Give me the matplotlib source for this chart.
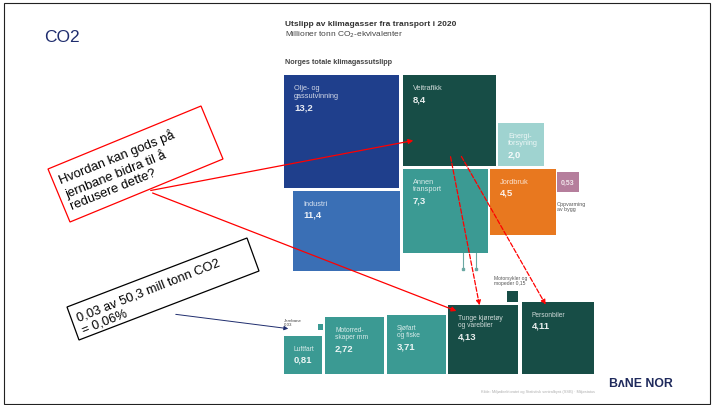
import matplotlib.pyplot as plt
from matplotlib.patches import Rectangle, Polygon
import numpy as np

plt.rcParams['font.family'] = ['Liberation Sans', 'DejaVu Sans']

# total emissions, mill. tonn CO2-ekv.
total_labels = ['Olje- og\ngassutvinning', 'Industri', 'Veitrafikk', 'Energi-\nforsyning',
                'Annen\ntransport', 'Jordbruk', 'Oppvarming\nav bygg']
total_values = [13.2, 11.4, 8.4, 2.0, 7.3, 4.5, 0.53]

# transport split
transport_labels = ['Luftfart', 'Jernbane', 'Motorred-\nskaper mm', 'Sjøfart\nog fiske',
                    'Tunge kjøretøy\nog varebiler', 'Personbiler', 'Motorsykler og\nmopeder']
transport_values = [0.81, 0.03, 2.72, 3.71, 4.13, 4.11, 0.15]

# box layout in slide pixels: x0, y0, x1, y1
total_boxes = [(284, 76, 399, 189), (293, 192, 400, 272), (403, 76, 496, 167),
               (498, 124, 544, 167), (403, 170, 488, 254), (490, 170, 556, 236),
               (557, 173, 579, 193)]
total_colors = ['#1f3f8c', '#3a6fb5', '#174d46', '#9fd3d0', '#3b9a93', '#e8781f', '#b57e9c']

transport_boxes = [(284, 337, 322, 375), (318, 325, 323, 331), (325, 318, 384, 375),
                   (387, 316, 446, 375), (448, 306, 518, 375), (522, 303, 594, 375),
                   (507, 292, 518, 303)]
transport_colors = ['#3b9a93', '#3b9a93', '#3b9a93', '#3b9a93', '#174d46', '#174d46', '#174d46']

W, H = 713, 406
fig = plt.figure(figsize=(W / 100, H / 100), dpi=100)
ax = fig.add_axes([0, 0, 1, 1])
ax.set_xlim(0, W)
ax.set_ylim(H, 0)
ax.axis('off')

# slide frame
ax.add_patch(Rectangle((3.5, 3.5), W - 7, H - 5, fill=False, ec='#222222', lw=0.8))
ax.text(44, 38, 'CO2', fontsize=12.5, color='#1f2d6e', va='center')


def fmt(v):
    return ('%.2f' % v if v < 1 or v != round(v, 1) else '%.1f' % v).replace('.', ',')


def draw_box(box, color, label, value, txtcol='white', small=False, fs=5.3):
    x0, y0, x1, y1 = box
    ax.add_patch(Rectangle((x0, y0), x1 - x0, y1 - y0, fc=color, ec='none'))
    if small:
        return
    ax.text(x0 + 10, y0 + 9, label, fontsize=fs, color=txtcol, va='top', ha='left',
            alpha=0.8, linespacing=1.1)
    nlines = label.count('\n') + 1
    ax.text(x0 + 10, y0 + 11 + nlines * 8.0, fmt(value), fontsize=6.8, color=txtcol,
            va='top', ha='left', fontweight='bold', alpha=0.9)


# chart heading
ax.text(285, 25, 'Utslipp av klimagasser fra transport i 2020', fontsize=6,
        fontweight='bold', color='#333333', va='center')
ax.text(285, 35, 'Millioner tonn CO$_2$-ekvivalenter', fontsize=6, color='#444444', va='center')
ax.text(285, 62, 'Norges totale klimagassutslipp', fontsize=5.2, fontweight='bold',
        color='#444444', va='center')

for i in range(len(total_values)):
    if i == 6:
        draw_box(total_boxes[i], total_colors[i], '', 0, small=True)
        ax.text(568, 183, fmt(total_values[i]), fontsize=5, color='white', ha='center',
                va='center', fontweight='bold', alpha=0.8)
        ax.text(557, 207, total_labels[i], fontsize=3.8, color='#555555', va='center',
                linespacing=1.1)
    else:
        draw_box(total_boxes[i], total_colors[i], total_labels[i], total_values[i])

# connector lines from "Annen transport" down to the transport row
for xl in (463, 476):
    ax.plot([xl, xl], [254, 270], color='#6aa8a3', lw=0.8)
    ax.plot([xl], [270], marker='s', ms=1.5, color='#6aa8a3')

for i in range(len(transport_values)):
    lab = transport_labels[i]
    if i == 1:
        draw_box(transport_boxes[i], transport_colors[i], '', 0, small=True)
        ax.text(284, 323, lab + '\n' + fmt(transport_values[i]), fontsize=3.2,
                color='#444444', va='center', linespacing=1.0)
    elif i == 6:
        draw_box(transport_boxes[i], transport_colors[i], '', 0, small=True)
        ax.text(494, 281, lab + ' ' + fmt(transport_values[i]), fontsize=3.6,
                color='#555555', va='center', linespacing=1.1)
    else:
        draw_box(transport_boxes[i], transport_colors[i], lab, transport_values[i], fs=4.8)

# source line
ax.text(595, 392, 'Kilde: Miljødirektoratet og Statistisk sentralbyrå (SSB) · Miljøstatus',
        fontsize=2.8, color='#b0b0b0', ha='right', va='center')

# red callout
c1 = np.array([(48, 170), (201, 107), (223, 160), (70, 223)])
ax.add_patch(Polygon(c1, closed=True, fill=False, ec='red', lw=0.9))
ax.text(57, 174, 'Hvordan kan gods på\njernbane bidra til å\nredusere dette?', fontsize=9.4,
        rotation=22, ha='left', va='top', color='black', linespacing=1.1,
        rotation_mode='anchor')

ax.annotate('', xy=(416, 141), xytext=(148, 192),
            arrowprops=dict(arrowstyle='-|>', color='red', lw=0.9, mutation_scale=7))
ax.annotate('', xy=(459, 313), xytext=(150, 193),
            arrowprops=dict(arrowstyle='-|>', color='red', lw=0.9, mutation_scale=7))
ax.annotate('', xy=(480, 309), xytext=(450, 155),
            arrowprops=dict(arrowstyle='-|>', color='red', lw=0.9, ls='--', mutation_scale=7))
ax.annotate('', xy=(547, 308), xytext=(460, 155),
            arrowprops=dict(arrowstyle='-|>', color='red', lw=0.9, ls='--', mutation_scale=7))

# black callout
c2 = np.array([(67, 308), (247, 239), (259, 272), (79, 341)])
ax.add_patch(Polygon(c2, closed=True, fill=False, ec='black', lw=0.9))
ax.text(75, 313, '0,03 av 50,3 mill tonn CO2\n= 0,06%', fontsize=9.3, rotation=21.5,
        ha='left', va='top', color='black', linespacing=1.1, rotation_mode='anchor')
ax.annotate('', xy=(291, 330), xytext=(173, 315),
            arrowprops=dict(arrowstyle='-|>', color='#1f2d6e', lw=0.7, mutation_scale=6))

# logo
ax.text(609, 384, 'B\u028cNE NOR', fontsize=8.8, fontweight='bold', color='#1f2a5c',
        va='center', ha='left')

fig.savefig('out.png', dpi=100)
